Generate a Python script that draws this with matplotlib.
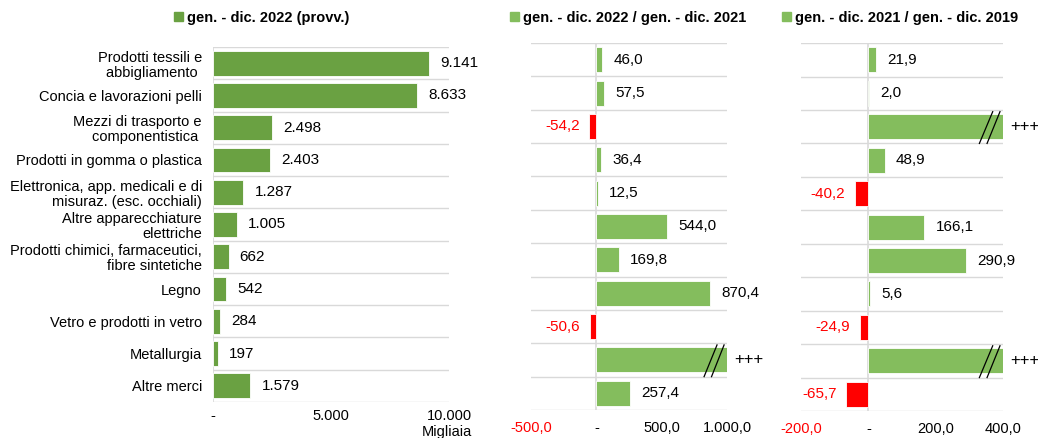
import numpy as np
import matplotlib
matplotlib.use("Agg")
import matplotlib.pyplot as plt
from matplotlib.patches import Patch
from matplotlib.transforms import blended_transform_factory

plt.rcParams['font.family'] = ['Liberation Sans', 'DejaVu Sans']

categories = [
    "Prodotti tessili e\nabbigliamento ",
    "Concia e lavorazioni pelli",
    "Mezzi di trasporto e\ncomponentistica ",
    "Prodotti in gomma o plastica",
    "Elettronica, app. medicali e di\nmisuraz. (esc. occhiali)",
    "Altre apparecchiature\nelettriche",
    "Prodotti chimici, farmaceutici,\nfibre sintetiche",
    "Legno",
    "Vetro e prodotti in vetro",
    "Metallurgia",
    "Altre merci",
]
values_2022 = [9141, 8633, 2498, 2403, 1287, 1005, 662, 542, 284, 197, 1579]
# None = "+++" (variation off the scale)
var_22_21 = [46.0, 57.5, -54.2, 36.4, 12.5, 544.0, 169.8, 870.4, -50.6, None, 257.4]
var_21_19 = [21.9, 2.0, None, 48.9, -40.2, 166.1, 290.9, 5.6, -24.9, None, -65.7]

legend_1 = "gen. - dic. 2022 (provv.)"
legend_2 = "gen. - dic. 2022 / gen. - dic. 2021"
legend_3 = "gen. - dic. 2021 / gen. - dic. 2019"

DARK_GREEN = "#6AA142"
LIGHT_GREEN = "#84BD5D"
RED = "#FF0000"
GRID = "#D9D9D9"
FS_LABEL = 10.5
FS_VALUE = 11


def fmt_it(v, dec):
    s = f"{v:,.{dec}f}"
    return s.replace(",", "X").replace(".", ",").replace("X", ".")


def style_axis(ax, n):
    for s in ax.spines.values():
        s.set_visible(False)
    ax.set_ylim(n - 0.5, -0.5)
    for b in np.arange(-0.5, n, 1.0):
        ax.axhline(b, color=GRID, lw=1.0, zorder=0)
    ax.axvline(0, color=GRID, lw=1.2, zorder=0)
    ax.tick_params(axis='both', length=0, labelsize=FS_LABEL)


fig = plt.figure(figsize=(10.38, 4.38), dpi=100)
n = len(categories)
y = np.arange(n)

# panel 1 - absolute values
ax1 = fig.add_axes([0.2052, 0.0822, 0.2274, 0.8105])
ax1.barh(y, values_2022, height=0.77, color=DARK_GREEN, edgecolor="white", lw=0.6, zorder=2)
ax1.set_xlim(0, 10000)
style_axis(ax1, n)
ax1.set_yticks(y)
ax1.set_yticklabels(categories, fontsize=FS_LABEL, linespacing=1.08)
ax1.tick_params(axis='y', pad=8)
ax1.set_xticks([0, 5000, 10000])
ax1.set_xticklabels(["-", "5.000", "10.000"])
ax1.tick_params(axis='x', pad=5)
for yi, v in zip(y, values_2022):
    ax1.annotate(fmt_it(v, 0), (v, yi), xytext=(8, 0), textcoords='offset points',
                 va='center', ha='left', fontsize=FS_VALUE)
fig.text(447 / 1038, 1 - 425 / 438, "Migliaia", ha='center', va='top', fontsize=FS_LABEL)


def variation_panel(rect, vals, xmin, xmax, ticks):
    ax = fig.add_axes(rect)
    style_axis(ax, n)
    ax.set_xlim(xmin, xmax)
    ax.set_yticks([])
    plot_vals = [xmax if v is None else v for v in vals]
    colors = [RED if v < 0 else LIGHT_GREEN for v in plot_vals]
    ax.barh(y, plot_vals, height=0.75, color=colors, edgecolor="white", lw=0.6, zorder=2)
    tr = blended_transform_factory(ax.transAxes, ax.transData)
    for yi, v in zip(y, vals):
        if v is None:
            for x0, x1 in [(0.883, 0.949), (0.921, 0.985)]:
                ax.plot([x0, x1], [yi + 0.5, yi - 0.45], color="black", lw=0.9,
                        transform=tr, zorder=3, clip_on=False)
            ax.text(1.035, yi, "+++", transform=tr, va='center', ha='left',
                    fontsize=12, clip_on=False)
        elif v < 0:
            ax.annotate(fmt_it(v, 1), (v, yi), xytext=(-7, 0), textcoords='offset points',
                        va='center', ha='right', fontsize=FS_VALUE, color=RED)
        else:
            ax.annotate(fmt_it(v, 1), (v, yi), xytext=(8, 0), textcoords='offset points',
                        va='center', ha='left', fontsize=FS_VALUE)
    ax.set_xticks(ticks)
    labels = ["-" if t == 0 else fmt_it(t, 1) for t in ticks]
    ax.set_xticklabels(labels)
    ax.tick_params(axis='x', pad=8)
    for t, lab in zip(ticks, ax.get_xticklabels()):
        if t < 0:
            lab.set_color(RED)
    return ax


ax2 = variation_panel([0.5116, 0.0639, 0.1888, 0.838], var_22_21, -500, 1000, [-500, 0, 500, 1000])
ax3 = variation_panel([0.7717, 0.0616, 0.1946, 0.840], var_21_19, -200, 400, [-200, 0, 200, 400])

for cx, label, col in [(262, legend_1, DARK_GREEN), (628, legend_2, LIGHT_GREEN), (900, legend_3, LIGHT_GREEN)]:
    fig.legend(handles=[Patch(color=col, label=label)], loc='center',
               bbox_to_anchor=(cx / 1038, 1 - 18 / 438), frameon=False,
               handlelength=0.6, handleheight=0.6, handletextpad=0.3,
               prop={'weight': 'bold', 'size': 10.5})

fig.savefig("out.png", dpi=100)
